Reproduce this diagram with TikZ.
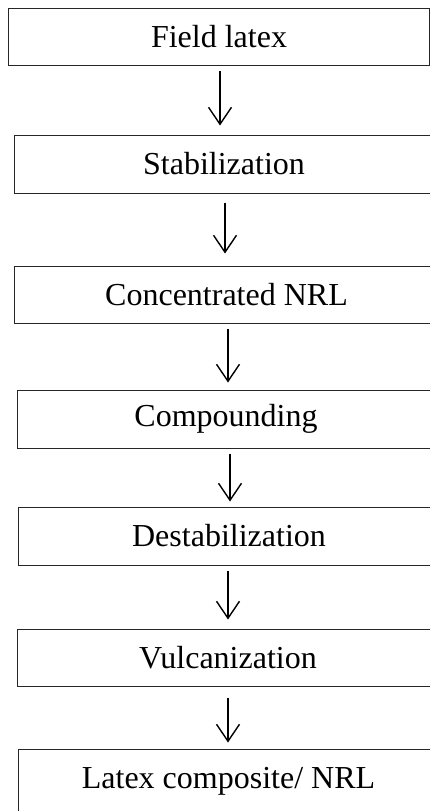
\documentclass[tikz,border=0pt]{standalone}
\usepackage{fontspec}
\setmainfont{Liberation Serif}
\usetikzlibrary{arrows.meta}
\tikzset{
  stepbox/.style={draw=black!85, line width=1pt, rectangle, inner sep=0pt,
    font=\fontsize{32}{36}\selectfont, text=black, anchor=center},
  flow/.style={draw=black, line width=1.4pt,
    -{Straight Barb[length=17pt,width=23pt,line width=1.4pt]}}
}
\begin{document}
\begin{tikzpicture}[x=1pt,y=-1pt]
\useasboundingbox (0,0) rectangle (430,811);
\node[stepbox, minimum width=421pt, minimum height=57pt] (n1) at (219,36.5) {Field latex};
\node[stepbox, minimum width=420pt, minimum height=58pt] (n2) at (224,164) {Stabilization};
\node[stepbox, minimum width=425pt, minimum height=57pt] (n3) at (226.5,294.5) {Concentrated NRL};
\node[stepbox, minimum width=418pt, minimum height=58pt] (n4) at (226,419) {Compounding};
\node[stepbox, minimum width=422pt, minimum height=58pt] (n5) at (229,536) {Destabilization};
\node[stepbox, minimum width=422pt, minimum height=57pt] (n6) at (228,657.5) {Vulcanization};
\node[stepbox, minimum width=421pt, minimum height=64pt] (n7) at (228.5,781) {Latex composite/ NRL};
\draw[flow, shorten <=5pt, shorten >=9pt] ([xshift=1pt]n1.south) -- ([xshift=1pt]n1.south |- n2.north);
\draw[flow, shorten <=9pt, shorten >=12pt] ([xshift=1pt]n2.south) -- ([xshift=1pt]n2.south |- n3.north);
\draw[flow, shorten <=5pt, shorten >=7pt] ([xshift=1.5pt]n3.south) -- ([xshift=1.5pt]n3.south |- n4.north);
\draw[flow, shorten <=5pt, shorten >=5pt] ([xshift=4pt]n4.south) -- ([xshift=4pt]n4.south |- n5.north);
\draw[flow, shorten <=5pt, shorten >=9pt] ([xshift=-1pt]n5.south) -- ([xshift=-1pt]n5.south |- n6.north);
\draw[flow, shorten <=11pt, shorten >=6pt] (n6.south) -- (n6.south |- n7.north);
\end{tikzpicture}
\end{document}
